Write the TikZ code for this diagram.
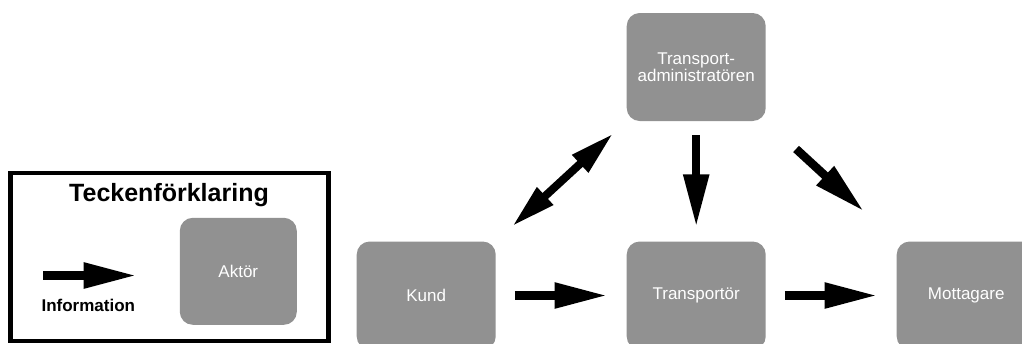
\documentclass[tikz,border=0pt]{standalone}
\usepackage{fontspec}
\setmainfont{Liberation Sans}
\usetikzlibrary{arrows.meta}

\definecolor{actorgray}{RGB}{145,145,145}
\newcommand\actorfont{\fontsize{17pt}{17.5pt}\selectfont}
\newcommand\titlefont{\bfseries\fontsize{25pt}{26pt}\selectfont}
\newcommand\labelfont{\bfseries\fontsize{17pt}{18pt}\selectfont}

\tikzset{
  actorbox/.style={rectangle, rounded corners=13pt, fill=actorgray, draw=none,
    text=white, inner sep=0pt, font=\actorfont,
    minimum width=139pt, minimum height=108pt},
  info/.style={line width=8.5pt, draw=black,
    -{Triangle[length=53pt,width=24pt]}},
  infoboth/.style={line width=8pt, draw=black,
    {Triangle[length=45pt,width=22pt]}-{Triangle[length=45pt,width=22pt]}},
  legendframe/.style={rectangle, draw=black, line width=4.4pt, inner sep=0pt,
    minimum width=318pt, minimum height=168pt},
}

\begin{document}
\begin{tikzpicture}[x=1pt, y=-1pt]
  \useasboundingbox (0,0) rectangle (1022,343);

  % legend
  \node[legendframe] (legend) at (169.5,257) {};
  \node[font=\titlefont] (legendtitle) at (169,195.5) {Teckenförklaring};
  \node[actorbox, minimum width=117pt, minimum height=107pt] (aktor) at (238.3,271.3) {Aktör};
  \coordinate (legstart) at (43.3,275.5);
  \coordinate (legend-end) at (136.7,275.5);
  \draw[info] (legstart) -- (legend-end);
  \node[font=\labelfont] (infolabel) at (88.3,305) {Information};

  % actors
  \node[actorbox, align=center] (admin) at (696.2,67) {Transport-\\administratören};
  \node[actorbox] (kund) at (426.2,295.5) {Kund};
  \node[actorbox] (trans) at (696.2,295.5) {Transportör};
  \node[actorbox] (mott) at (966.2,295.5) {Mottagare};

  % information flows
  \draw[info, shorten <=19pt, shorten >=19pt] (kund.east) -- (trans.west);
  \draw[info, shorten <=19pt, shorten >=19pt] (trans.east) -- (mott.west);
  \draw[info, shorten <=14pt, shorten >=14pt] (admin.south) -- (trans.north);
  \draw[infoboth, shorten <=22pt, shorten >=18pt] (kund.north east) -- (admin.south west);
  \draw[info, shorten <=41pt, shorten >=44pt] (admin.south east) -- (mott.north west);
\end{tikzpicture}
\end{document}
